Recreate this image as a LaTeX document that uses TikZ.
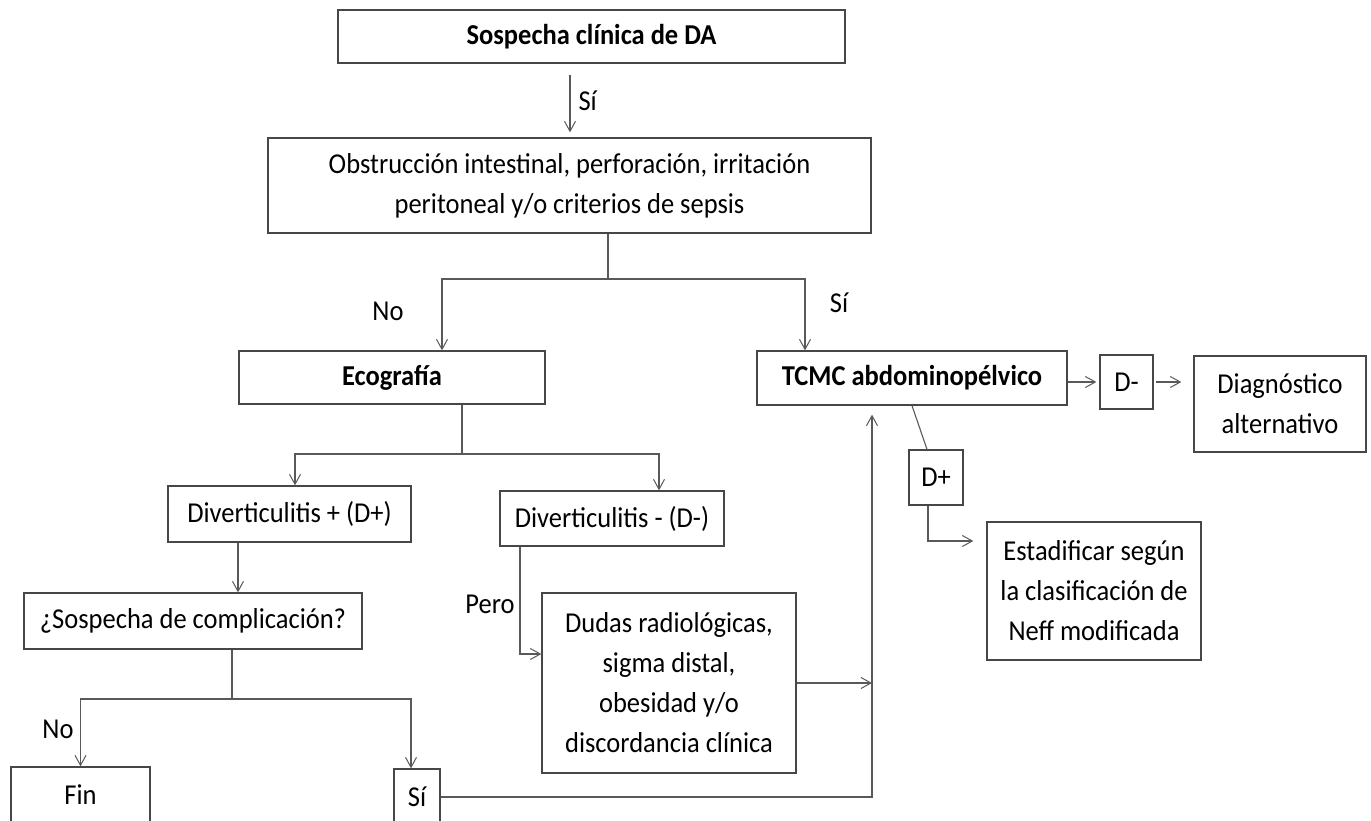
\documentclass[tikz,border=0pt]{standalone}
\usepackage{fontspec}
\setmainfont{Carlito}[FakeStretch=0.92]
\usetikzlibrary{arrows.meta}
\definecolor{boxgray}{HTML}{474747}
\definecolor{linegray}{HTML}{595959}

\begin{document}
\begin{tikzpicture}[
    x=1pt, y=-1pt,
    font=\fontsize{28.8}{40}\selectfont,
    box/.style={draw=boxgray, line width=1.3pt, rectangle, align=center, inner sep=0pt},
    line/.style={draw=linegray, line width=1.1pt},
    arr/.style={line, -{Straight Barb[length=10pt,width=11pt,line width=1pt]}},
    edge_label/.style={inner sep=0pt}
]
\path[use as bounding box] (0,0) rectangle (1371,821);
\clip (0,0) rectangle (1371,821);

% Knoten
\node[box, minimum width=507pt, minimum height=53pt] (sda) at (591.5,36.5) {\textbf{Sospecha clínica de DA}};
\node[box, minimum width=603pt, minimum height=95pt] (obst) at (569.5,185.5) {Obstrucción intestinal, perforación, irritación\\ peritoneal y/o criterios de sepsis};
\node[box, minimum width=306pt, minimum height=53pt] (eco) at (392,377.5) {\textbf{Ecografía}};
\node[box, minimum width=310pt, minimum height=54pt] (tcmc) at (912,378) {\textbf{TCMC abdominopélvico}};
\node[box, minimum width=53pt, minimum height=54pt] (dneg) at (1126.5,382) {D-};
\node[box, minimum width=172pt, minimum height=96pt] (alt) at (1280,404) {Diagnóstico\\ alternativo};
\node[box, minimum width=54pt, minimum height=55pt] (dpos) at (936,477.5) {D+};
\node[box, minimum width=214pt, minimum height=138pt] (neff) at (1094,591) {Estadificar según\\ la clasificación de\\ Neff modificada};
\node[box, minimum width=243pt, minimum height=56pt] (divpos) at (289.5,514) {Diverticulitis + (D+)};
\node[box, minimum width=224pt, minimum height=55pt] (divneg) at (612,518.5) {Diverticulitis - (D-)};
\node[box, minimum width=338pt, minimum height=56pt] (compl) at (193,621) {¿Sospecha de complicación?};
\node[box, minimum width=254pt, minimum height=180pt] (dudas) at (669,683) {Dudas radiológicas,\\ sigma distal,\\ obesidad y/o\\ discordancia clínica};
\node[box, minimum width=139pt, minimum height=56pt] (fin) at (80.5,795) {Fin};
\node[box, minimum width=46pt, minimum height=56pt] (si) at (417,797) {Sí};

% Verzweigungen
\coordinate (split1) at (608,279);
\coordinate (split2) at (462,454);
\coordinate (split3) at (232,699);
\coordinate (merge) at (872,797);

% Verbindungen
\draw[arr, shorten <=11pt, shorten >=5pt] ([xshift=-21.5pt]sda.south) -- node[edge_label, right=8pt] (lsi1) {Sí} ([xshift=-21.5pt]sda.south |- obst.north);

\draw[line] (split1 |- obst.south) -- (split1);
\draw[arr] (split1) -| ([xshift=50pt]eco.north);
\draw[arr] (split1) -| ([xshift=-107pt]tcmc.north);
\node[edge_label] (lno1) at (388,311) {No};
\node[edge_label] (lsi2) at (839,303) {Sí};

\draw[line] (split2 |- eco.south) -- (split2);
\draw[arr] (split2) -| ([xshift=5.5pt]divpos.north);
\draw[arr] (split2) -| ([xshift=47pt]divneg.north);

\draw[arr] ([xshift=-51.5pt]divpos.south) -- ([xshift=-51.5pt]divpos.south |- compl.north);

\draw[line] (split3 |- compl.south) -- (split3);
\draw[arr] (split3) -| (fin.north);
\draw[arr] (split3) -| ([xshift=-6pt]si.north);
\node[edge_label] (lno2) at (58,729) {No};

\draw[arr] ([xshift=-92pt]divneg.south) |- ([yshift=29pt]dudas.west);
\node[edge_label] (lpero) at (490,604) {Pero};

\draw[arr] (dudas.east) -- (dudas.east -| merge);
\draw[arr, shorten >=9pt] (si.east) -- (merge) -- (merge |- tcmc.south);

\draw[arr, shorten >=3pt] (tcmc.east |- dneg.west) -- (dneg.west);
\draw[arr, shorten <=2pt, shorten >=12pt] (dneg.east) -- (dneg.east -| alt.west);
\draw[line] (tcmc.south) -- ([xshift=-9pt]dpos.north);
\draw[arr, shorten >=13pt] ([xshift=-8pt]dpos.south) |- ([yshift=50pt]neff.west);

\end{tikzpicture}
\end{document}
